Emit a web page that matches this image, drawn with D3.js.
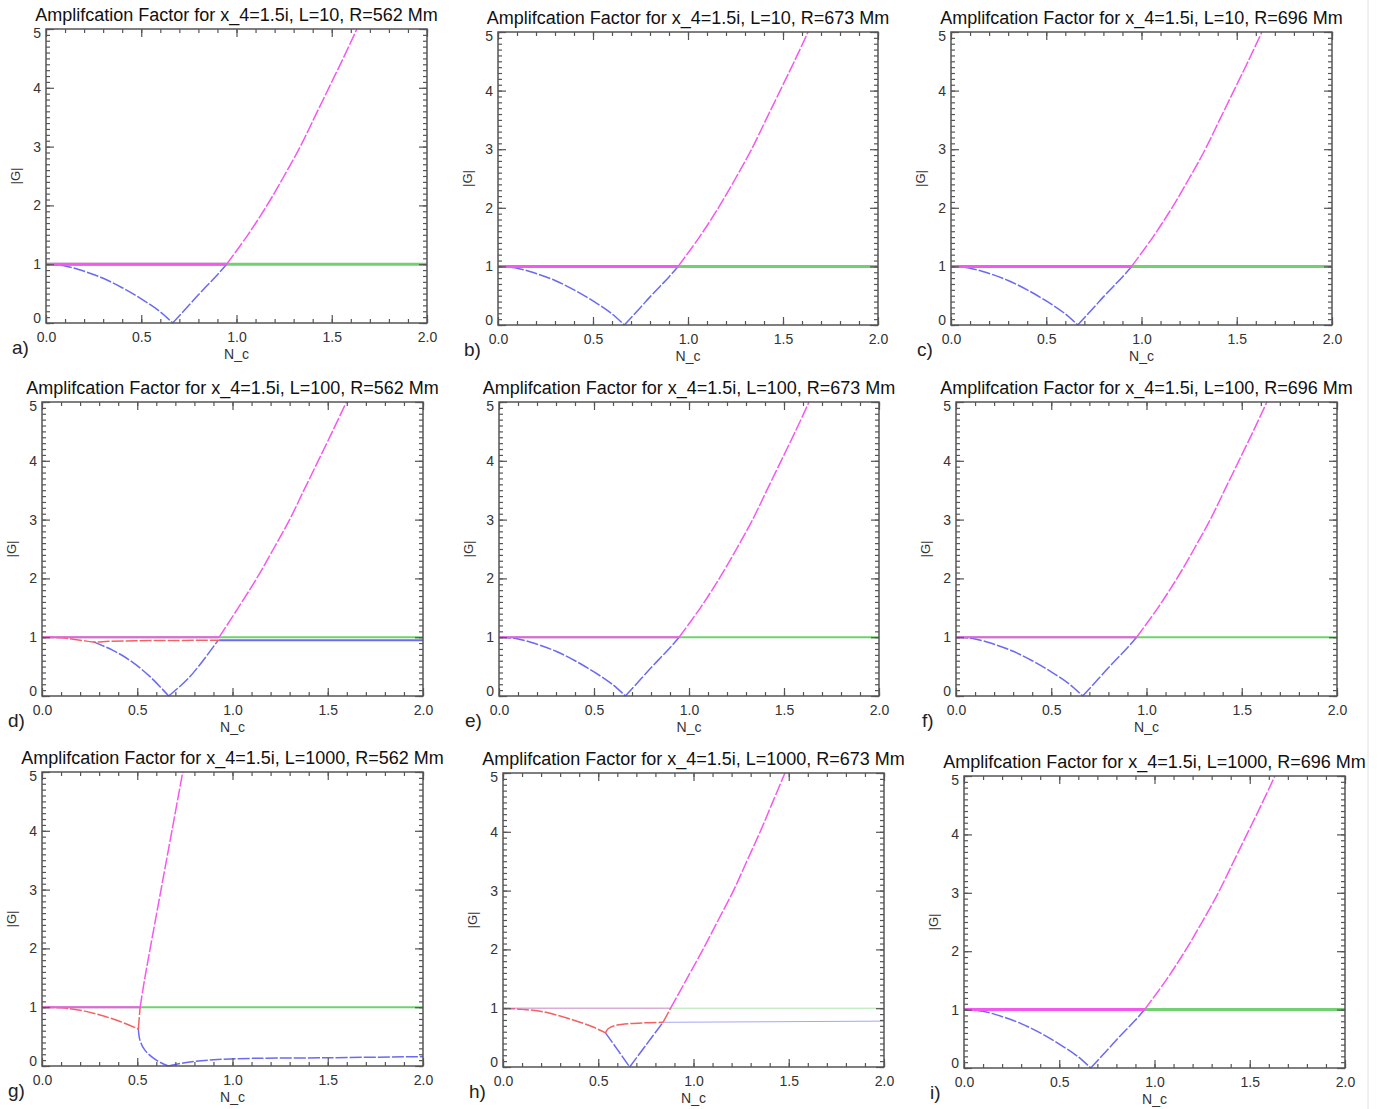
<!DOCTYPE html>
<html>
<head>
<meta charset="utf-8">
<script src="https://cdn.jsdelivr.net/npm/d3@7"></script>
<style>
  body { margin: 0; background: #fff; }
  svg { display: block; font-family: "Liberation Sans", Arial, sans-serif; }
</style>
</head>
<body>
<svg id="chart" width="1384" height="1109"></svg>
<script>
// ---- data: [N_c, |G|] ----
const xTickLabels = [0, 0.5, 1, 1.5, 2];
const yTickLabels = [0, 1, 2, 3, 4, 5];

// panels a, b, c, e, f, i (all look the same)
const stdMagFlat = [[0, 1], [0.948, 1]];
const stdMagRise = [[0.948, 1], [1.06, 1.5], [1.16, 2], [1.25, 2.5], [1.335, 3], [1.41, 3.5], [1.485, 4], [1.56, 4.5], [1.632, 5]];
const stdGreen = [[0, 1], [2, 1]];
const stdBlueDown = [[0, 1], [0.1, 0.97], [0.2, 0.88], [0.3, 0.76], [0.4, 0.6], [0.5, 0.41], [0.6, 0.19], [0.665, 0]];
const stdBlueUp = [[0.665, 0], [0.75, 0.3], [0.8, 0.48], [0.85, 0.65], [0.9, 0.82], [0.948, 1]];

// panel d  (L=100, R=562 Mm)
const dMagFlat = [[0, 1], [0.93, 1]];
const dMagRise = [[0.93, 1], [1.03, 1.5], [1.127, 2], [1.215, 2.5], [1.30, 3], [1.375, 3.5], [1.45, 4], [1.525, 4.5], [1.598, 5]];
const dGreen = [[0, 1], [2, 1]];
const dRed = [[0, 1], [0.1, 0.99], [0.2, 0.95], [0.27, 0.92], [0.35, 0.93], [0.5, 0.94], [0.7, 0.945], [0.93, 0.95]];
const dBlueDown = [[0.27, 0.92], [0.37, 0.78], [0.46, 0.61], [0.567, 0.33], [0.665, 0]];
const dBlueUp = [[0.665, 0], [0.777, 0.33], [0.925, 0.95]];
const dBlueFlat = [[0.93, 0.95], [2, 0.95]];

// panel g  (L=1000, R=562 Mm)
const gMagFlat = [[0, 1], [0.515, 1]];
const gMagRise = [[0.515, 1], [0.54, 1.5], [0.568, 2], [0.625, 3], [0.682, 4], [0.739, 5]];
const gGreen = [[0, 1], [2, 1]];
const gRed = [[0, 1], [0.1, 0.99], [0.2, 0.95], [0.3, 0.87], [0.4, 0.77], [0.506, 0.63]];
const gRedVert = [[0.506, 0.63], [0.51, 0.8], [0.515, 1]];
const gBlueDown = [[0.506, 0.63], [0.514, 0.44], [0.54, 0.27], [0.6, 0.1], [0.663, 0]];
const gBlueUp = [[0.663, 0], [0.777, 0.07], [0.987, 0.12], [1.51, 0.14], [2, 0.16]];

// panel h  (L=1000, R=673 Mm)
const hMagFlat = [[0, 1], [0.88, 1]];
const hMagRise = [[0.88, 1], [0.965, 1.5], [1.05, 2], [1.13, 2.5], [1.21, 3], [1.28, 3.5], [1.35, 4], [1.415, 4.5], [1.48, 5]];
const hGreen = [[0, 1], [2, 1]];
const hRedDown = [[0, 1], [0.1, 0.98], [0.21, 0.94], [0.368, 0.8], [0.473, 0.68], [0.538, 0.58]];
const hRedUp = [[0.538, 0.58], [0.552, 0.65], [0.595, 0.71], [0.735, 0.75], [0.84, 0.76]];
const hRedJoin = [[0.84, 0.76], [0.88, 1]];
const hBlueDown = [[0.538, 0.58], [0.6, 0.3], [0.665, 0]];
const hBlueUp = [[0.665, 0], [0.75, 0.37], [0.84, 0.76]];
const hBlueFlat = [[0.84, 0.76], [2, 0.78]];

// ---- layout ----
const colors = { mag: '#f558f0', green: '#72d072', blue: '#6a6af2', red: '#f26262' };

const stdSeries = [
    { d: stdGreen, c: 'green', flat: true },
    { d: stdBlueDown, c: 'blue' },
    { d: stdBlueUp, c: 'blue' },
    { d: stdMagFlat, c: 'mag', flat: true },
    { d: stdMagRise, c: 'mag' },
];

const panels = [
    { lab: 'a)', L: 10, R: 562, x0: 46, x1: 427, y0: 29, y1: 323, hw: 3, series: stdSeries },
    { lab: 'b)', L: 10, R: 673, x0: 498, x1: 878, y0: 32, y1: 325, hw: 3, series: stdSeries },
    { lab: 'c)', L: 10, R: 696, x0: 951, x1: 1332, y0: 32, y1: 325, hw: 3, series: stdSeries },
    { lab: 'd)', L: 100, R: 562, x0: 42, x1: 423, y0: 402, y1: 696, hw: 2, series: [
        { d: dGreen, c: 'green', flat: true },
        { d: dBlueFlat, c: 'blue', flat: true },
        { d: dBlueDown, c: 'blue' },
        { d: dBlueUp, c: 'blue' },
        { d: dRed, c: 'red' },
        { d: dMagFlat, c: 'mag', flat: true },
        { d: dMagRise, c: 'mag' },
    ] },
    { lab: 'e)', L: 100, R: 673, x0: 499, x1: 879, y0: 402, y1: 696, hw: 2, series: stdSeries },
    { lab: 'f)', L: 100, R: 696, x0: 956, x1: 1337, y0: 402, y1: 696, hw: 2, series: stdSeries },
    { lab: 'g)', L: 1000, R: 562, x0: 42, x1: 423, y0: 772, y1: 1066, hw: 2, series: [
        { d: gGreen, c: 'green', flat: true },
        { d: gBlueDown, c: 'blue' },
        { d: gBlueUp, c: 'blue' },
        { d: gRed, c: 'red' },
        { d: gRedVert, c: 'red' },
        { d: gMagFlat, c: 'mag', flat: true },
        { d: gMagRise, c: 'mag' },
    ] },
    { lab: 'h)', L: 1000, R: 673, x0: 503, x1: 884, y0: 773, y1: 1067, hw: 1, series: [
        { d: hGreen, c: 'green', flat: true },
        { d: hBlueFlat, c: 'blue', flat: true },
        { d: hBlueDown, c: 'blue' },
        { d: hBlueUp, c: 'blue' },
        { d: hRedDown, c: 'red' },
        { d: hRedUp, c: 'red' },
        { d: hRedJoin, c: 'red' },
        { d: hMagFlat, c: 'mag', flat: true },
        { d: hMagRise, c: 'mag' },
    ] },
    { lab: 'i)', L: 1000, R: 696, x0: 964, x1: 1345, y0: 776, y1: 1068, hw: 3, series: stdSeries },
];

const svg = d3.select('#chart');

// thin page border seen at the right edge
svg.append('line')
    .attr('x1', 1368).attr('x2', 1368).attr('y1', 0).attr('y2', 1109)
    .attr('stroke', '#e2e2e2').attr('stroke-width', 1);

const defs = svg.append('defs');

panels.forEach((p, i) => {
    const w = p.x1 - p.x0;
    const h = p.y1 - p.y0;
    const x = d3.scaleLinear().domain([0, 2]).range([0, w]);
    const y = d3.scaleLinear().domain([0, 5]).range([h, 0]);

    const g = svg.append('g').attr('transform', `translate(${p.x0},${p.y0})`);

    defs.append('clipPath').attr('id', `clip${i}`)
        .append('rect').attr('x', 0).attr('y', -1).attr('width', w).attr('height', h + 2);

    // curves
    const line = d3.line()
        .x(d => x(d[0]))
        .y(d => y(d[1]))
        .curve(d3.curveCatmullRom.alpha(0.5));

    const plot = g.append('g').attr('clip-path', `url(#clip${i})`);
    p.series.forEach(s => {
        plot.append('path')
            .datum(s.d)
            .attr('fill', 'none')
            .attr('stroke', colors[s.c])
            .attr('stroke-width', s.flat ? p.hw : 1.5)
            .attr('stroke-opacity', p.hw === 1 && s.flat ? 0.6 : 1)
            .attr('stroke-dasharray', s.flat ? null : '12,2')
            .attr('d', line);
    });

    // axes, IDL style: ticks inward on all four sides
    const styleAxis = sel => {
        sel.select('.domain').remove();
        sel.selectAll('line').attr('stroke', '#555').attr('stroke-width', 1.2);
        sel.selectAll('text').attr('fill', '#333').attr('font-size', 14).attr('font-family', null);
    };
    const minorX = d3.range(0, 21).map(k => k / 10);
    const minorY = d3.range(0, 51).map(k => k / 10);

    g.append('g').attr('transform', `translate(0,${h})`)
        .call(d3.axisBottom(x).tickValues(minorX).tickSize(-4).tickFormat(''))
        .call(styleAxis);
    g.append('g').attr('transform', `translate(0,${h})`)
        .call(d3.axisBottom(x).tickValues(xTickLabels).tickSize(-8).tickPadding(9).tickFormat(d3.format('.1f')))
        .call(styleAxis);
    g.append('g')
        .call(d3.axisTop(x).tickValues(minorX).tickSize(-4).tickFormat(''))
        .call(styleAxis);
    g.append('g')
        .call(d3.axisTop(x).tickValues(xTickLabels).tickSize(-8).tickFormat(''))
        .call(styleAxis);

    g.append('g')
        .call(d3.axisLeft(y).tickValues(minorY).tickSize(-4).tickFormat(''))
        .call(styleAxis);
    const yl = g.append('g')
        .call(d3.axisLeft(y).tickValues(yTickLabels).tickSize(-8).tickPadding(5).tickFormat(d3.format('d')))
        .call(styleAxis);
    yl.selectAll('text').attr('dy', d => d === 0 ? '-0.05em' : d === 5 ? '0.6em' : '0.32em');
    g.append('g').attr('transform', `translate(${w},0)`)
        .call(d3.axisRight(y).tickValues(minorY).tickSize(-4).tickFormat(''))
        .call(styleAxis);
    g.append('g').attr('transform', `translate(${w},0)`)
        .call(d3.axisRight(y).tickValues(yTickLabels).tickSize(-8).tickFormat(''))
        .call(styleAxis);

    // frame
    g.append('rect')
        .attr('width', w).attr('height', h)
        .attr('fill', 'none').attr('stroke', '#555').attr('stroke-width', 1.5);

    // texts
    g.append('text')
        .attr('x', w / 2).attr('y', -8)
        .attr('text-anchor', 'middle')
        .attr('font-size', 18).attr('fill', '#111')
        .text(`Amplifcation Factor for x_4=1.5i, L=${p.L}, R=${p.R} Mm`);

    g.append('text')
        .attr('x', w / 2).attr('y', h + 36)
        .attr('text-anchor', 'middle')
        .attr('font-size', 14).attr('fill', '#333')
        .text('N_c');

    g.append('text')
        .attr('transform', `translate(-26,${h / 2}) rotate(-90)`)
        .attr('text-anchor', 'middle')
        .attr('font-size', 13).attr('fill', '#333')
        .text('|G|');

    g.append('text')
        .attr('x', -34).attr('y', h + 31)
        .attr('font-size', 19).attr('fill', '#222')
        .text(p.lab);
});
</script>
</body>
</html>
